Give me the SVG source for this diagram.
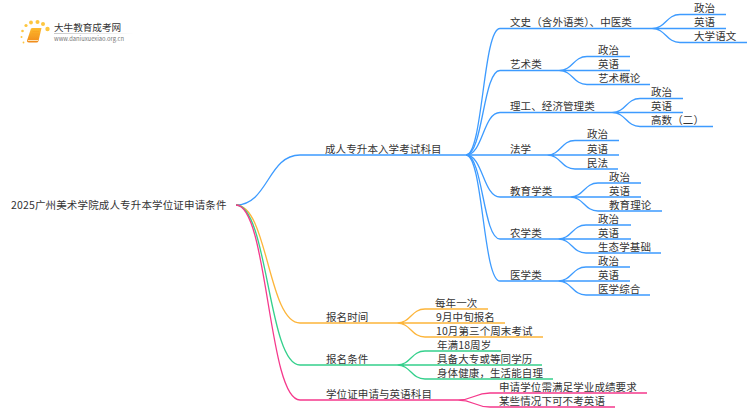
<svg xmlns="http://www.w3.org/2000/svg" width="750" height="410" viewBox="0 0 750 410">
<defs>
<style>
text{font-family:"Noto Sans CJK SC","Noto Sans",sans-serif;font-size:10.5px;fill:#333;letter-spacing:.1px}
.c{fill:none;stroke-width:1.3}
.b{stroke:#3d9bff}.o{stroke:#fdb53a}.g{stroke:#34d08c}.p{stroke:#f5398c}
</style>
<linearGradient id="fade"><stop offset="0" stop-color="#bbb"/><stop offset="1" stop-color="#bbb" stop-opacity="0"/></linearGradient>
<linearGradient id="book" x1="0" y1="0" x2="0" y2="1"><stop offset="0" stop-color="#fdbb2e"/><stop offset="1" stop-color="#f08a1a"/></linearGradient>
</defs>
<rect width="750" height="410" fill="#fff"/>
<g id="logo">
<path d="M31 28.500Q31.500 28 32.500 28H41.500L38.500 41Q38 42.500 36.500 42.500H29Q26.500 42.500 27.200 40Z" fill="url(#book)"/>
<path d="M28 40.500H38" stroke="#fde3b8" stroke-width="1"/>
<path d="M32.500 31.500H39M32 34H38.500" stroke="#f9a21f" stroke-width="0.700"/>
<g fill="#fdc63f"><circle cx="47.500" cy="29" r="2.200"/><circle cx="43" cy="24" r="2"/><circle cx="37.500" cy="22" r="2"/><circle cx="31" cy="22.500" r="1.900"/><circle cx="26" cy="25.500" r="1.600"/><circle cx="22.500" cy="31" r="1.300"/><circle cx="21.500" cy="37" r="1"/><circle cx="23.500" cy="42.500" r="0.900"/></g>
<text x="54" y="30.500" style="font-size:9.600px;letter-spacing:0">大牛教育成考网</text>
<rect x="54" y="33" width="80" height="0.800" fill="url(#fade)"/>
<text x="54" y="41" style="font-size:5.800px;fill:#777;letter-spacing:0">www.daniuxuexiao.org.cn</text>
</g>
<g id="connectors">
<path class="c b" d="M236 205C268 205 268 155 300 155H466"/>
<path class="c o" d="M236 205C268 205 268 323 300 323H397"/>
<path class="c g" d="M236 205C268 205 268 365 300 365H397"/>
<path class="c p" d="M236 205C268 205 268 400 300 400H458"/>
<path class="c b" d="M466 155C483 155 483 28.500 500 28.500H652"/>
<path class="c b" d="M466 155C483 155 483 70.500 500 70.500H559"/>
<path class="c b" d="M466 155C483 155 483 112.500 500 112.500H612"/>
<path class="c b" d="M466 155H547"/>
<path class="c b" d="M466 155C483 155 483 197 500 197H570"/>
<path class="c b" d="M466 155C483 155 483 239 500 239H558"/>
<path class="c b" d="M466 155C483 155 483 281 500 281H558"/>
<path class="c b" d="M652 28.500C666 28.500 666 14.500 680 14.500H726M652 28.500H726M652 28.500C666 28.500 666 42.500 680 42.500H747"/>
<path class="c b" d="M559 70.500C573 70.500 573 56.500 587 56.500H630M559 70.500H630M559 70.500C573 70.500 573 84.500 587 84.500H650"/>
<path class="c b" d="M612 112.500C626 112.500 626 98.500 640 98.500H683M612 112.500H683M612 112.500C626 112.500 626 126.500 640 126.500H713"/>
<path class="c b" d="M547 155C561 155 561 140.500 575 140.500H619M547 155H619M547 155C561 155 561 169 575 169H618"/>
<path class="c b" d="M570 197C584 197 584 183 598 183H641M570 197H641M570 197C584 197 584 211 598 211H662"/>
<path class="c b" d="M558 239C572 239 572 225 586 225H631M558 239H631M558 239C572 239 572 253 586 253H661"/>
<path class="c b" d="M558 281C572 281 572 267 586 267H630M558 281H630M558 281C572 281 572 295 586 295H650"/>
<path class="c o" d="M397 323C411 323 411 309 425 309H488M397 323H505M397 323C411 323 411 337 425 337H543"/>
<path class="c g" d="M397 365C411 365 411 351 425 351H501M397 365H542M397 365C411 365 411 379 425 379H553"/>
<path class="c p" d="M458 400C474 400 474 393 490 393H647M458 400C474 400 474 407 490 407H615"/>
</g>
<g id="root"><text x="11" y="209" style="letter-spacing:.15px">2025广州美术学院成人专升本学位证申请条件</text></g>
<g id="n1"><text x="325" y="152.500">成人专升本入学考试科目</text></g>
<g id="n1-1"><text x="510" y="26">文史（含外语类）、中医类</text></g>
<g id="n1-1-1"><text x="694" y="12">政治</text></g>
<g id="n1-1-2"><text x="694" y="26">英语</text></g>
<g id="n1-1-3"><text x="694" y="40">大学语文</text></g>
<g id="n1-2"><text x="510" y="68">艺术类</text></g>
<g id="n1-2-1"><text x="598" y="54">政治</text></g>
<g id="n1-2-2"><text x="598" y="68">英语</text></g>
<g id="n1-2-3"><text x="598" y="82">艺术概论</text></g>
<g id="n1-3"><text x="510" y="110">理工、经济管理类</text></g>
<g id="n1-3-1"><text x="651" y="96">政治</text></g>
<g id="n1-3-2"><text x="651" y="110">英语</text></g>
<g id="n1-3-3"><text x="651" y="124">高数（二）</text></g>
<g id="n1-4"><text x="510" y="152.500">法学</text></g>
<g id="n1-4-1"><text x="587" y="138">政治</text></g>
<g id="n1-4-2"><text x="587" y="152.500">英语</text></g>
<g id="n1-4-3"><text x="587" y="166.500">民法</text></g>
<g id="n1-5"><text x="510" y="194.500">教育学类</text></g>
<g id="n1-5-1"><text x="609" y="180.500">政治</text></g>
<g id="n1-5-2"><text x="609" y="194.500">英语</text></g>
<g id="n1-5-3"><text x="609" y="208.500">教育理论</text></g>
<g id="n1-6"><text x="510" y="236.500">农学类</text></g>
<g id="n1-6-1"><text x="598" y="222.500">政治</text></g>
<g id="n1-6-2"><text x="598" y="236.500">英语</text></g>
<g id="n1-6-3"><text x="598" y="250.500">生态学基础</text></g>
<g id="n1-7"><text x="510" y="278.500">医学类</text></g>
<g id="n1-7-1"><text x="598" y="264.500">政治</text></g>
<g id="n1-7-2"><text x="598" y="278.500">英语</text></g>
<g id="n1-7-3"><text x="598" y="292.500">医学综合</text></g>
<g id="n2"><text x="326" y="321">报名时间</text></g>
<g id="n2-1"><text x="435" y="306.500">每年一次</text></g>
<g id="n2-2"><text x="436" y="320.500">9月中旬报名</text></g>
<g id="n2-3"><text x="436" y="334.500">10月第三个周末考试</text></g>
<g id="n3"><text x="326" y="362.500">报名条件</text></g>
<g id="n3-1"><text x="437" y="348.500">年满18周岁</text></g>
<g id="n3-2"><text x="437" y="362.500">具备大专或等同学历</text></g>
<g id="n3-3"><text x="437" y="376.500">身体健康，生活能自理</text></g>
<g id="n4"><text x="326" y="397.500">学位证申请与英语科目</text></g>
<g id="n4-1"><text x="499" y="390.500">申请学位需满足学业成绩要求</text></g>
<g id="n4-2"><text x="499" y="404.500">某些情况下可不考英语</text></g>
</svg>
